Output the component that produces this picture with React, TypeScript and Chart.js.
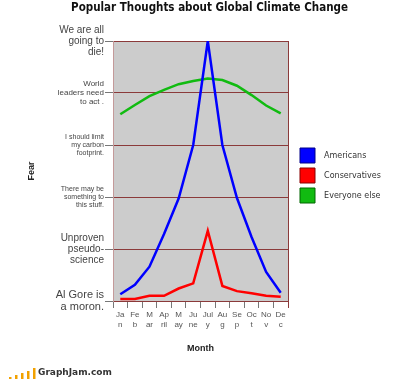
import { useEffect, useRef } from "react";
import { Chart, registerables } from "chart.js";

Chart.register(...registerables);

// ---- data ----
const monthTickLabels = [
  ["Ja", "n"], ["Fe", "b"], ["M", "ar"], ["Ap", "ril"], ["M", "ay"], ["Ju", "ne"],
  ["Jul", "y"], ["Au", "g"], ["Se", "p"], ["Oc", "t"], ["No", "v"], ["De", "c"],
];
const americans = [0.13, 0.31, 0.66, 1.29, 1.97, 3.0, 5.0, 3.0, 1.98, 1.23, 0.56, 0.16];
const conservatives = [0.04, 0.04, 0.1, 0.1, 0.24, 0.34, 1.35, 0.29, 0.19, 0.15, 0.1, 0.08];
const everyoneElse = [3.59, 3.77, 3.94, 4.06, 4.17, 4.23, 4.28, 4.25, 4.14, 3.96, 3.76, 3.61];
const fearTickLabels = [
  ["Al Gore is", "a moron."],
  ["Unproven", "pseudo-", "science"],
  ["There may be", "something to", "this stuff."],
  ["I should limit", "my carbon", "footprint."],
  ["World", "leaders need", "to act ."],
  ["We are all", "going to", "die!"],
];
const seriesNames = ["Americans", "Conservatives", "Everyone else"];

// ---- styles ----
const fearTickFontSizes = [11, 10, 7, 7, 8, 10];
const SANS = "'Liberation Sans', Arial, sans-serif";

const plotBackground = {
  id: "plotBackground",
  beforeDraw(chart: any) {
    const { ctx, chartArea } = chart;
    ctx.save();
    ctx.fillStyle = "#cccccc";
    ctx.fillRect(chartArea.left, chartArea.top, chartArea.right - chartArea.left, chartArea.bottom - chartArea.top);
    ctx.restore();
  },
  beforeDatasetsDraw(chart: any) {
    const { ctx, chartArea } = chart;
    ctx.save();
    ctx.strokeStyle = "#8b3a3a";
    ctx.lineWidth = 1;
    ctx.beginPath();
    const x = Math.round(chartArea.right) + 0.5;
    ctx.moveTo(x, chartArea.top);
    ctx.lineTo(x, chartArea.bottom + 7);
    ctx.stroke();
    ctx.restore();
  },
};

const legendPlacement = {
  id: "legendPlacement",
  beforeLayout(chart: any) {
    const l = chart.legend;
    if (l && !l.__patched) {
      const orig = l.fit.bind(l);
      l.fit = function () {
        orig();
        this.width = 112;
      };
      l.__patched = true;
    }
  },
  afterLayout(chart: any) {
    const l = chart.legend;
    if (l) {
      l.left += 7;
      l.right += 7;
      l.top += 4.5;
      l.bottom += 4.5;
    }
  },
};

const footer = {
  id: "footer",
  afterDraw(chart: any) {
    const { ctx } = chart;
    ctx.save();
    ctx.fillStyle = "#f2a100";
    const bars = [
      [9, 2], [15, 4], [21, 6], [27, 8], [33, 11],
    ];
    bars.forEach(([x, h]) => ctx.fillRect(x, 379 - h, 2.5, h));
    ctx.fillStyle = "#333333";
    ctx.font = "bold 9px 'DejaVu Sans', Verdana, sans-serif";
    ctx.textBaseline = "alphabetic";
    ctx.fillText("GraphJam.com", 38, 375);
    ctx.restore();
  },
};

export default function App() {
  const ref = useRef<HTMLCanvasElement | null>(null);

  useEffect(() => {
    if (!ref.current) return;
    const colors = ["#0000ff", "#ff0000", "#11bb11"];
    const edges = ["#000088", "#880000", "#006600"];
    const chart = new Chart(ref.current, {
      type: "line",
      data: {
        labels: monthTickLabels as any,
        datasets: [americans, conservatives, everyoneElse].map((d, i) => ({
          label: seriesNames[i],
          data: d,
          borderColor: colors[i],
          backgroundColor: colors[i],
          borderWidth: 2.5,
          pointRadius: 0,
          tension: 0,
          fill: false,
        })),
      },
      options: {
        responsive: false,
        animation: false,
        layout: { padding: { left: 19, right: 0, top: 0, bottom: 0 } },
        plugins: {
          title: {
            display: true,
            text: "Popular Thoughts about Global Climate Change",
            color: "#111111",
            font: { family: "'Liberation Sans Narrow', 'DejaVu Sans Condensed', sans-serif", size: 11.5, weight: "bold", lineHeight: 1.2 },
            padding: { top: 1.5, bottom: 25.7 },
          },
          legend: {
            position: "right",
            fullSize: false,
            labels: {
              boxWidth: 15,
              boxHeight: 15,
              padding: 5,
              color: "#333333",
              font: { family: "'DejaVu Sans', Verdana, sans-serif", size: 8 },
              generateLabels(c: any) {
                const items = Chart.defaults.plugins.legend.labels.generateLabels(c);
                return items.map((it: any, i: number) => ({
                  ...it,
                  text: "  " + it.text,
                  fillStyle: colors[i],
                  strokeStyle: edges[i],
                  lineWidth: 1,
                }));
              },
            },
          },
          tooltip: { enabled: false },
        },
        scales: {
          x: {
            type: "category",
            offset: true,
            afterFit(scale: any) {
              scale.height = 79;
            },
            grid: { offset: true, drawOnChartArea: false, drawTicks: true, tickLength: 7, color: "#777777" },
            border: { color: "#8b3a3a", width: 1 },
            ticks: {
              autoSkip: false,
              maxRotation: 0,
              minRotation: 0,
              padding: 2,
              color: "#555555",
              font: { family: SANS, size: 8, lineHeight: 1.25 },
            },
            title: {
              display: true,
              text: "Month",
              color: "#222222",
              font: { family: SANS, size: 9, weight: "bold", lineHeight: 1.2 },
              padding: { top: 0, bottom: 25.6 },
            },
          },
          y: {
            min: 0,
            max: 5,
            afterFit(scale: any) {
              scale.width = 113 - 19;
            },
            grid: { color: "#8b3a3a", lineWidth: 1, tickLength: 8, tickColor: "#777777" },
            border: { color: "#c49a9a", width: 1 },
            ticks: {
              stepSize: 1,
              padding: 1,
              color: "#444444",
              callback: (v: any) => fearTickLabels[Math.round(Number(v))] ?? "",
              font: (ctx: any) => ({
                family: SANS,
                size: fearTickFontSizes[Math.round(ctx.tick ? ctx.tick.value : ctx.index)] ?? 8,
                lineHeight: 1.1,
              }),
            },
            title: {
              display: true,
              text: "Fear",
              color: "#222222",
              font: { family: SANS, size: 9, weight: "bold", lineHeight: 1.2 },
              padding: { top: 7.6, bottom: 0 },
            },
          },
        },
      },
      plugins: [plotBackground, legendPlacement, footer],
    } as any);
    return () => chart.destroy();
  }, []);

  return (
    <div style={{ position: "fixed", left: 0, top: 0, width: 400, height: 380, background: "#ffffff" }}>
      <canvas ref={ref} width={400} height={380} />
    </div>
  );
}
